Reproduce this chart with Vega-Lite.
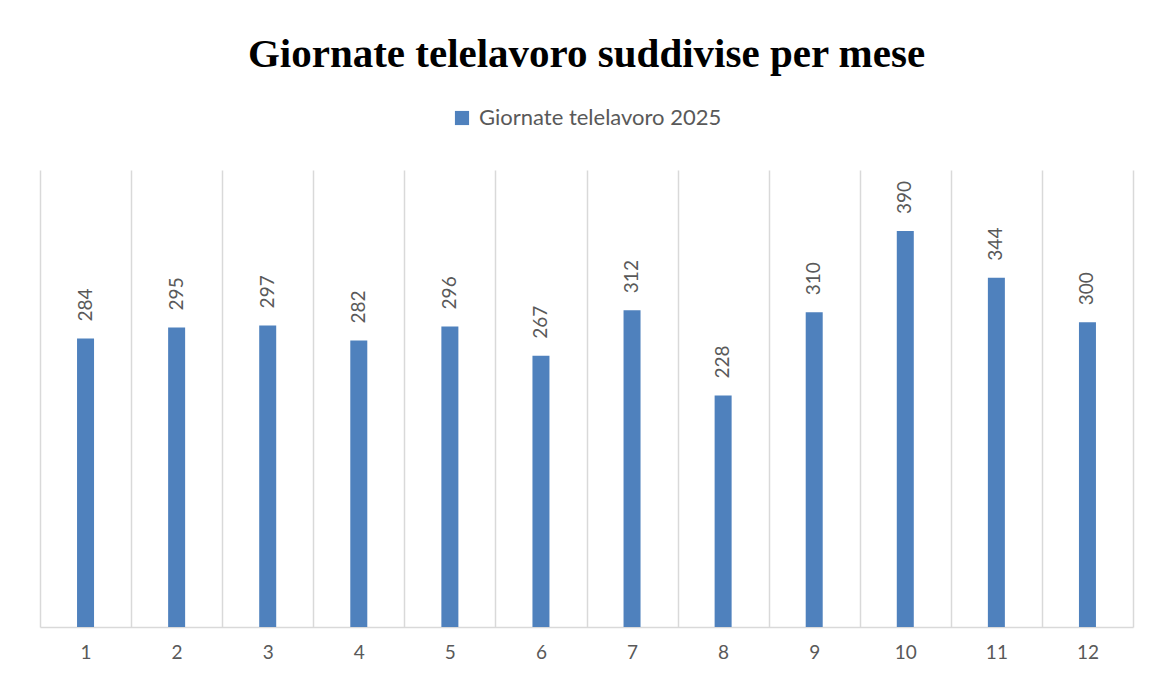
{
  "$schema": "https://vega.github.io/schema/vega-lite/v6.json",
  "width": 1093,
  "height": 457,
  "autosize": {"type": "none"},
  "padding": {"left": 40, "top": 170, "right": 18, "bottom": 52},
  "background": "#ffffff",
  "title": {
    "text": "Giornate telelavoro suddivise per mese",
    "font": "Liberation Serif",
    "fontSize": 41,
    "fontWeight": "bold",
    "color": "#000000",
    "anchor": "middle",
    "offset": 31
  },
  "config": {
    "view": {"stroke": null},
    "legend": {"layout": {"anchor": "middle"}}
  },
  "data": {
    "values": [
      {"mese": 1, "giornate": 284, "serie": "Giornate telelavoro 2025"},
      {"mese": 2, "giornate": 295, "serie": "Giornate telelavoro 2025"},
      {"mese": 3, "giornate": 297, "serie": "Giornate telelavoro 2025"},
      {"mese": 4, "giornate": 282, "serie": "Giornate telelavoro 2025"},
      {"mese": 5, "giornate": 296, "serie": "Giornate telelavoro 2025"},
      {"mese": 6, "giornate": 267, "serie": "Giornate telelavoro 2025"},
      {"mese": 7, "giornate": 312, "serie": "Giornate telelavoro 2025"},
      {"mese": 8, "giornate": 228, "serie": "Giornate telelavoro 2025"},
      {"mese": 9, "giornate": 310, "serie": "Giornate telelavoro 2025"},
      {"mese": 10, "giornate": 390, "serie": "Giornate telelavoro 2025"},
      {"mese": 11, "giornate": 344, "serie": "Giornate telelavoro 2025"},
      {"mese": 12, "giornate": 300, "serie": "Giornate telelavoro 2025"}
    ]
  },
  "encoding": {
    "x": {
      "field": "mese",
      "type": "ordinal",
      "scale": {"paddingInner": 0, "paddingOuter": 0},
      "axis": {
        "title": null,
        "labelAngle": 0,
        "labelFont": "Lato",
        "labelFontSize": 19,
        "labelColor": "#595959",
        "labelPadding": 16,
        "ticks": false,
        "grid": true,
        "tickBand": "extent",
        "gridColor": "#d9d9d9",
        "gridWidth": 1.5,
        "domainColor": "#d9d9d9",
        "domainWidth": 1.5
      }
    },
    "y": {
      "field": "giornate",
      "type": "quantitative",
      "scale": {"domain": [0, 450], "nice": false},
      "axis": null
    }
  },
  "layer": [
    {
      "mark": {"type": "bar", "width": 17},
      "encoding": {
        "color": {
          "field": "serie",
          "type": "nominal",
          "scale": {"range": ["#4F81BD"]},
          "legend": {
            "title": null,
            "orient": "top",
            "offset": 41,
            "symbolType": "square",
            "symbolSize": 200,
            "symbolStrokeWidth": 0,
            "labelFont": "Lato",
            "labelFontSize": 22,
            "labelLimit": 500,
            "labelColor": "#595959",
            "labelOffset": 6
          }
        }
      }
    },
    {
      "mark": {
        "type": "text",
        "angle": -90,
        "align": "left",
        "baseline": "middle",
        "dx": 17,
        "font": "Lato",
        "fontSize": 19,
        "color": "#595959"
      },
      "encoding": {
        "text": {"field": "giornate", "type": "quantitative"}
      }
    }
  ]
}
